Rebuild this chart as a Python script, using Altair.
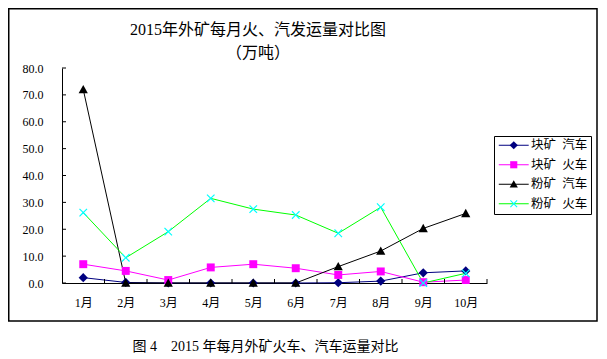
import altair as alt
import pandas as pd

months = [1, 2, 3, 4, 5, 6, 7, 8, 9, 10]
series = ["块矿 汽车", "块矿 火车", "粉矿 汽车", "粉矿 火车"]
block_truck = [2.0, 0.2, 0.0, 0.0, 0.0, 0.0, 0.1, 0.7, 3.8, 4.5]
block_rail = [7.0, 4.5, 1.1, 5.8, 7.0, 5.5, 3.0, 4.3, 0.3, 1.1]
powder_truck = [72.0, 0.0, 0.0, 0.0, 0.0, 0.0, 6.1, 11.9, 20.3, 25.9]
powder_rail = [26.2, 9.4, 19.1, 31.5, 27.5, 25.3, 18.5, 28.2, 0.0, 3.6]
y_ticks = [0, 10, 20, 30, 40, 50, 60, 70, 80]

line_colors = ["#000080", "#FF00FF", "#000000", "#00FF00"]
marker_colors = ["#000080", "#FF00FF", "#000000", "#00FFFF"]
marker_paths = [
    "M0,-1.1L1.1,0L0,1.1L-1.1,0Z",
    "M-0.95,-0.95H0.95V0.95H-0.95Z",
    "M0,-1.1L1.1,0.9H-1.1Z",
    "M-1,-0.8L-0.8,-1L0,-0.2L0.8,-1L1,-0.8L0.2,0L1,0.8L0.8,1L0,0.2L-0.8,1L-1,0.8L-0.2,0Z",
]

rows = []
for name, vals in zip(series, [block_truck, block_rail, powder_truck, powder_rail]):
    for m, v in zip(months, vals):
        rows.append({"month": m, "value": v, "series": name, "series_l": name})
df = pd.DataFrame(rows)

xtick_df = pd.DataFrame({"month": [m + 0.5 for m in months]})
ytick_df = pd.DataFrame({"value": y_ticks})
frame_df = pd.DataFrame({"k": [0]})

FONT = "Liberation Serif, Noto Sans CJK SC"
W, H = 425, 215
NB = "\u00a0"

xscale = alt.Scale(domain=[0.5, 10.5], nice=False, zero=False)
yscale = alt.Scale(domain=[0, 80], nice=False, zero=False)

x_axis = alt.Axis(
    values=months, labelExpr="datum.value + '月'", tickSize=0, grid=False,
    domainColor="black", labelPadding=14, labelFont=FONT, labelFontSize=12,
    labelColor="black", labelAngle=0,
    title="图" + NB + "4" + NB * 4 + "2015" + NB + "年每月外矿火车、汽车运量对比",
    titleFont=FONT, titleFontSize=14, titleFontWeight="normal", titleColor="black",
    titleX=203, titleY=63, titleBaseline="middle", titleAlign="center", titleAnchor="start",
)
y_axis = alt.Axis(
    values=y_ticks, format=".1f", tickSize=0, grid=False, domainColor="black",
    labelPadding=19, labelFont=FONT, labelFontSize=12, labelColor="black", title=None,
)

common_leg = dict(
    orient="none", legendX=432, legendY=68, title=None, symbolSize=56,
    symbolOffset=10.5, labelOffset=11, padding=3, rowPadding=6.5,
    labelFont=FONT, labelFontSize=12.5, labelColor="black",
    labelExpr="replace(datum.label, ' ', '\u00a0\u00a0')",
)
line_leg = alt.Legend(symbolType="M-4,0H4", symbolStrokeWidth=1, strokeColor="black",
                      labelOpacity=0, **common_leg)
mark_leg = alt.Legend(symbolStrokeWidth=0, **common_leg)

X = alt.X("month:Q", scale=xscale, axis=x_axis)
Y = alt.Y("value:Q", scale=yscale, axis=y_axis)

lines = alt.Chart(df).mark_line(strokeWidth=1).encode(
    x=X, y=Y,
    stroke=alt.Stroke("series_l:N", scale=alt.Scale(range=line_colors), legend=line_leg),
    order="month:Q",
)

points = alt.Chart(df).mark_point(filled=True, size=70, opacity=1).encode(
    x=X, y=Y,
    fill=alt.Fill("series:N", scale=alt.Scale(range=marker_colors), legend=mark_leg),
    shape=alt.Shape("series:N", scale=alt.Scale(range=marker_paths), legend=mark_leg),
)

xticks = alt.Chart(xtick_df).mark_rule(color="black", strokeWidth=1).encode(
    x=X, y=alt.value(H), y2=alt.value(H - 4),
)
yticks = alt.Chart(ytick_df).mark_rule(color="black", strokeWidth=1).encode(
    y=Y, x=alt.value(0), x2=alt.value(4),
)
frame = alt.Chart(frame_df).mark_rect(fillOpacity=0, stroke="black", strokeWidth=1.5).encode(
    x=alt.value(-53.25), x2=alt.value(535), y=alt.value(-59.25), y2=alt.value(253),
)

chart = alt.layer(frame, lines, xticks, yticks, points).properties(
    width=W, height=H,
    title=alt.TitleParams(
        text=["2015年外矿每月火、汽发运量对比图", "（万吨）"],
        font=FONT, fontSize=16, fontWeight="normal", color="black",
        anchor="middle", frame="group", dx=-16.5, dy=53, offset=0, lineHeight=23,
    ),
    autosize=alt.AutoSizeParams(type="none"),
    padding={"left": 54, "top": 60, "right": 112, "bottom": 76},
).configure(background="white").configure_view(stroke=None)

chart.save("out.html", embed_options={"renderer": "svg", "actions": False})
